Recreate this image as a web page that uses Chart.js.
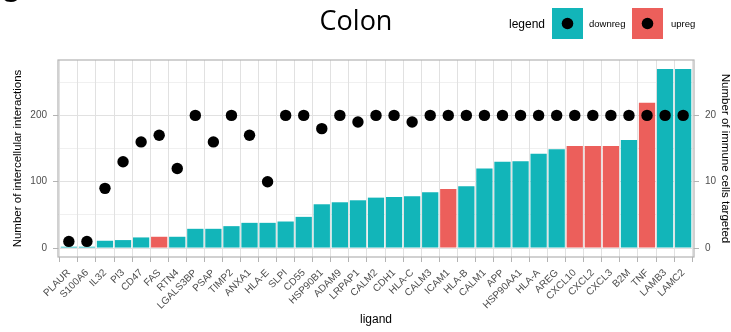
<!DOCTYPE html>
<html>
<head>
<meta charset="utf-8">
<script src="https://cdn.jsdelivr.net/npm/chart.js@4/dist/chart.umd.min.js"></script>
<style>
  html, body { margin: 0; padding: 0; background: #ffffff; overflow: hidden; }
  canvas { display: block; }
</style>
</head>
<body>
<canvas id="chart" width="731" height="332"></canvas>
<script>
// Ligands, ordered by number of intercellular interactions
const ligands = ['PLAUR', 'S100A6', 'IL32', 'PI3', 'CD47', 'FAS', 'RTN4', 'LGALS3BP', 'PSAP', 'TIMP2',
  'ANXA1', 'HLA-E', 'SLPI', 'CD55', 'HSP90B1', 'ADAM9', 'LRPAP1', 'CALM2', 'CDH1', 'HLA-C',
  'CALM3', 'ICAM1', 'HLA-B', 'CALM1', 'APP', 'HSP90AA1', 'HLA-A', 'AREG', 'CXCL10', 'CXCL2',
  'CXCL3', 'B2M', 'TNF', 'LAMB3', 'LAMC2'];

// Number of intercellular interactions (bars, left axis)
const interactions = [2, 2, 11, 12, 16, 17, 17, 29, 29, 33,
  38, 38, 40, 47, 66, 69, 72, 76, 77, 78,
  84, 89, 93, 120, 130, 131, 142, 149, 154, 154,
  154, 163, 219, 270, 270];

// Number of immune cells targeted (points, right axis)
const cellsTargeted = [1, 1, 9, 13, 16, 17, 12, 20, 16, 20,
  17, 10, 20, 20, 18, 20, 19, 20, 20, 19,
  20, 20, 20, 20, 20, 20, 20, 20, 20, 20,
  20, 20, 20, 20, 20];

// Regulation direction of each ligand
const regulation = ['downreg', 'downreg', 'downreg', 'downreg', 'downreg', 'upreg', 'downreg', 'downreg', 'downreg', 'downreg',
  'downreg', 'downreg', 'downreg', 'downreg', 'downreg', 'downreg', 'downreg', 'downreg', 'downreg', 'downreg',
  'downreg', 'upreg', 'downreg', 'downreg', 'downreg', 'downreg', 'downreg', 'downreg', 'upreg', 'upreg',
  'upreg', 'downreg', 'upreg', 'downreg', 'downreg'];

const legendKeys = ['downreg', 'upreg'];
const leftTickLabels = [0, 100, 200];
const rightTickLabels = [0, 10, 20];

const palette = { downreg: '#12B5B9', upreg: '#EC5F5B' };
const gridColor = '#e1e1e1';
const frameColor = '#b3b3b3';
const tickText = '#4d4d4d';
const sansFont = "'Liberation Sans', Arial, sans-serif";

Chart.defaults.font.family = sansFont;

// Panel frame drawn over the data, plus the title and legend in the top band
const decorations = {
  id: 'decorations',
  afterDatasetsDraw(chart) {
    const { ctx, chartArea: a } = chart;
    ctx.save();
    ctx.strokeStyle = frameColor;
    ctx.lineWidth = 1.2;
    ctx.strokeRect(a.left, a.top, a.right - a.left, a.bottom - a.top);
    ctx.restore();
  },
  afterDraw(chart) {
    const { ctx } = chart;
    ctx.save();
    ctx.fillStyle = '#000';
    ctx.textBaseline = 'alphabetic';

    // panel letter
    ctx.font = "bold 28px " + sansFont;
    ctx.textAlign = 'left';
    ctx.fillText('C', 0, 2);

    // title
    ctx.font = "27px 'Open Sans', 'Noto Sans', sans-serif";
    ctx.textAlign = 'center';
    ctx.fillText('Colon', 356, 30);

    // legend
    ctx.textAlign = 'left';
    ctx.font = '12px ' + sansFont;
    ctx.fillText('legend', 509, 28);
    const keyX = [552, 632];
    const labelX = [589, 671];
    legendKeys.forEach((k, i) => {
      ctx.fillStyle = palette[k];
      ctx.fillRect(keyX[i], 8, 31, 31);
      ctx.fillStyle = '#000';
      ctx.beginPath();
      ctx.arc(keyX[i] + 15.5, 23.5, 5.8, 0, Math.PI * 2);
      ctx.fill();
      ctx.font = '9.5px ' + sansFont;
      ctx.fillText(k, labelX[i], 27);
    });
    ctx.restore();
  }
};

const isMajor = v => v % 100 === 0;

new Chart(document.getElementById('chart'), {
  type: 'bar',
  data: {
    datasets: [
      {
        type: 'scatter',
        label: 'immune cells targeted',
        data: cellsTargeted.map((v, i) => ({ x: i, y: v })),
        xAxisID: 'x',
        yAxisID: 'y2',
        pointRadius: 5.7,
        pointBackgroundColor: '#000',
        pointBorderWidth: 0,
        order: 0
      },
      {
        type: 'bar',
        label: 'intercellular interactions',
        data: interactions.map((v, i) => ({ x: i, y: v })),
        xAxisID: 'x',
        yAxisID: 'y',
        backgroundColor: regulation.map(r => palette[r]),
        borderWidth: 0,
        barPercentage: 0.9,
        categoryPercentage: 1,
        order: 1
      }
    ]
  },
  options: {
    responsive: false,
    animation: false,
    events: [],
    layout: { padding: { top: 60, left: 0, right: 0, bottom: 0 } },
    plugins: {
      legend: { display: false },
      tooltip: { enabled: false },
      title: { display: false }
    },
    scales: {
      x: {
        type: 'linear',
        position: 'bottom',
        min: -0.6,
        max: 34.6,
        offset: false,
        ticks: {
          stepSize: 1,
          includeBounds: false,
          autoSkip: false,
          minRotation: 45,
          maxRotation: 45,
          padding: 5,
          color: tickText,
          font: { size: 10 },
          callback: v => ligands[v] ?? ''
        },
        grid: { color: gridColor, lineWidth: 1, tickLength: 5, tickColor: frameColor },
        border: { display: false },
        title: {
          display: true,
          text: 'ligand',
          color: '#000',
          font: { size: 12 },
          padding: { top: 0, bottom: 5 }
        },
        afterFit(s) { s.height = 75; }
      },
      y: {
        type: 'linear',
        position: 'left',
        min: -13.5,
        max: 283.5,
        ticks: {
          stepSize: 50,
          includeBounds: false,
          padding: 6,
          color: tickText,
          font: { size: 10 },
          callback: v => leftTickLabels.includes(v) ? String(v) : ''
        },
        grid: {
          color: gridColor,
          lineWidth: c => (c.tick && isMajor(c.tick.value)) ? 1 : 0.5,
          tickLength: 5,
          tickColor: c => (c.tick && isMajor(c.tick.value)) ? frameColor : 'rgba(0,0,0,0)'
        },
        border: { display: false },
        title: {
          display: true,
          text: 'Number of intercellular interactions',
          color: '#000',
          font: { size: 11.5 },
          padding: { top: 11, bottom: 0 }
        },
        afterFit(s) { s.width = 58; }
      },
      y2: {
        type: 'linear',
        position: 'right',
        min: -1.35,
        max: 28.35,
        ticks: {
          stepSize: 10,
          includeBounds: false,
          padding: 6,
          color: tickText,
          font: { size: 10 },
          callback: v => rightTickLabels.includes(v) ? String(v) : ''
        },
        grid: { drawOnChartArea: false, tickLength: 5, tickColor: frameColor, color: frameColor },
        border: { display: false },
        title: {
          display: true,
          text: 'Number of immune cells targeted',
          color: '#000',
          font: { size: 11.5 },
          padding: { top: -1, bottom: 0 }
        },
        afterFit(s) { s.width = 37; }
      }
    }
  },
  plugins: [decorations]
});
</script>
</body>
</html>
